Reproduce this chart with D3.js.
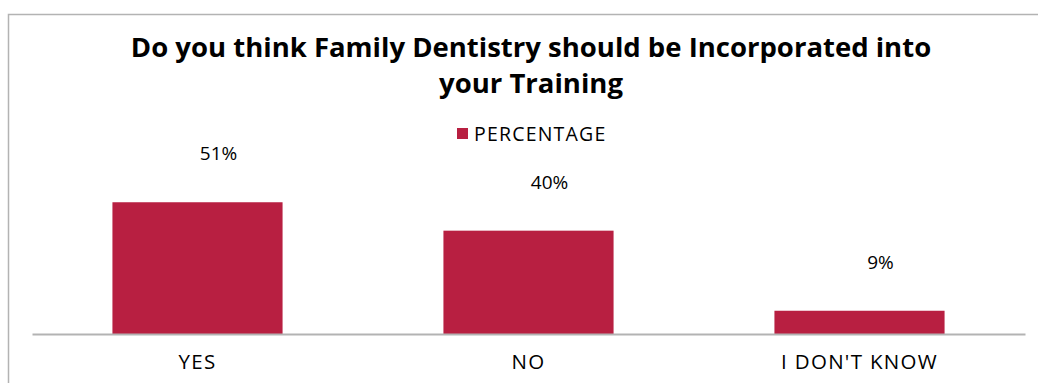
<!DOCTYPE html>
<html>
<head>
<meta charset="utf-8">
<script src="https://cdn.jsdelivr.net/npm/d3@7"></script>
<style>
  html, body { margin: 0; padding: 0; background: #fff; }
  svg { display: block; font-family: "Open Sans", "Lato", sans-serif; }
</style>
</head>
<body>
<svg id="chart" width="1038" height="383"></svg>
<script>
// Survey responses
const categories = ["YES", "NO", "I DON'T KNOW"];
const percentages = [51, 40, 9];
const seriesName = "PERCENTAGE";
const titleLines = ["Do you think Family Dentistry should be Incorporated into", "your Training"];

const barColor = "#B81F41";
const svg = d3.select("#chart");

// Outer chart frame
svg.append("rect")
  .attr("x", 8.5).attr("y", 14.5)
  .attr("width", 1050).attr("height", 400)
  .attr("fill", "none").attr("stroke", "#b3b3b3").attr("stroke-width", 1.5);

// Title
const title = svg.append("text")
  .attr("text-anchor", "middle")
  .attr("font-weight", "bold")
  .attr("font-size", 27.5)
  .attr("fill", "#000");
titleLines.forEach((line, i) => {
  title.append("tspan").attr("x", 531).attr("y", 57 + i * 36).text(line);
});

// Legend
const legend = svg.append("g").attr("transform", "translate(457,128)");
legend.append("rect").attr("width", 11).attr("height", 11).attr("fill", barColor);
legend.append("text").attr("x", 17).attr("y", 13)
  .attr("font-size", 19.5).attr("letter-spacing", 1.2)
  .attr("fill", "#000").text(seriesName);

// Scales
const x = d3.scaleBand().domain(categories).range([32, 1025]).paddingInner(0.486).paddingOuter(0.243);
const y = d3.scaleLinear().domain([0, 60]).range([334, 179]);

// Bars
svg.append("g").selectAll("rect")
  .data(categories)
  .join("rect")
  .attr("x", d => x(d))
  .attr("width", x.bandwidth())
  .attr("y", (d, i) => y(percentages[i]))
  .attr("height", (d, i) => y(0) - y(percentages[i]))
  .attr("fill", barColor);

// Value labels
svg.append("g").selectAll("text")
  .data(categories)
  .join("text")
  .attr("x", d => x(d) + x.bandwidth() / 2 + 21)
  .attr("y", (d, i) => y(percentages[i]) - 42)
  .attr("text-anchor", "middle")
  .attr("font-size", 19)
  .attr("fill", "#000")
  .text((d, i) => percentages[i] + "%");

// Category axis
const axis = svg.append("g")
  .attr("transform", `translate(0,${y(0)})`)
  .call(d3.axisBottom(x).tickSize(0).tickPadding(0));
axis.select(".domain").attr("stroke", "#b3b3b3").attr("stroke-width", 2);
axis.selectAll(".tick text")
  .attr("y", 35)
  .attr("dy", null)
  .attr("font-size", 20.5)
  .attr("letter-spacing", 1.3)
  .attr("font-family", "'Open Sans', Lato, sans-serif")
  .attr("fill", "#000");
</script>
</body>
</html>
